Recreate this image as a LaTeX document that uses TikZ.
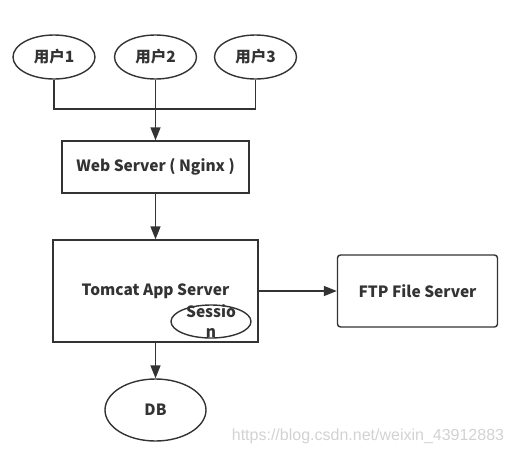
\documentclass[tikz,border=0pt]{standalone}
\usepackage{fontspec}
\setmainfont{Noto Sans CJK SC}
\newfontfamily\markfont{Liberation Sans}
\usetikzlibrary{arrows.meta,shapes.geometric}
\definecolor{r51g51b51}{rgb}{0.200000,0.200000,0.200000}
\definecolor{r210g210b210}{rgb}{0.823529,0.823529,0.823529}
\tikzset{
  userell/.style={ellipse,draw,line width=1.4pt,inner sep=0pt,minimum width=82pt,minimum height=44pt},
  srvbox/.style={rectangle,draw,line width=1.4pt,inner sep=0pt},
  link/.style={line width=1.4pt},
  flow/.style={line width=1.4pt,-{Triangle[length=13pt,width=10pt]}}
}
\begin{document}
\begin{tikzpicture}[x=1pt,y=-1pt]
            \useasboundingbox (0,0) rectangle (514,453);
            {\fontsize{15.5}{20}\selectfont\bfseries
            \color{r51g51b51}%

            % Drawing users
            \node [userell] (u1) at (54,57) {用户1};%
            \node [userell] (u2) at (155.5,57) {用户2};%
            \node [userell] (u3) at (255.5,57) {用户3};%

            % Drawing servers
            \node [srvbox,minimum width=187pt,minimum height=52pt] (web) at (155.5,167) {Web Server ( Nginx )};%
            \node [srvbox,minimum width=205pt,minimum height=102pt] (tomcat) at (155.5,291) {Tomcat App Server};%
            \node [srvbox,rounded corners=3pt,minimum width=160pt,minimum height=72pt] (ftp) at (417.5,291) {FTP File Server};%

            % Marking session inside tomcat
            \node [ellipse,draw,line width=1.4pt,minimum width=80pt,minimum height=33pt] (session) at (211,321.5) {};%
            \node [align=center,inner sep=0pt] (sessiontext) at (session.center) {Sessio\\n};%

            % Drawing DB
            \node [ellipse,draw,line width=1.4pt,minimum width=101pt,minimum height=62pt] (db) at (155.5,410) {DB};%

            % Drawing line users web
            \coordinate (merge) at (155.5,109);%
            \draw [link] (u1.south) -- (u1.south |- merge) -- (u3.south |- merge) -- (u3.south);%
            \draw [flow] (u2.south) -- (web.north);%

            % Drawing line web tomcat ftp db
            \draw [flow] (web.south) -- (tomcat.north);%
            \draw [flow] (tomcat.east) -- (ftp.west);%
            \draw [flow] (tomcat.south) -- (db.north);%
            }

            % Marking watermark
            \node [text=r210g210b210,font=\markfont\fontsize{16}{18}\selectfont] (mark) at (368,436) {https://blog.csdn.net/weixin\_43912883};%
            \end{tikzpicture}
\end{document}
